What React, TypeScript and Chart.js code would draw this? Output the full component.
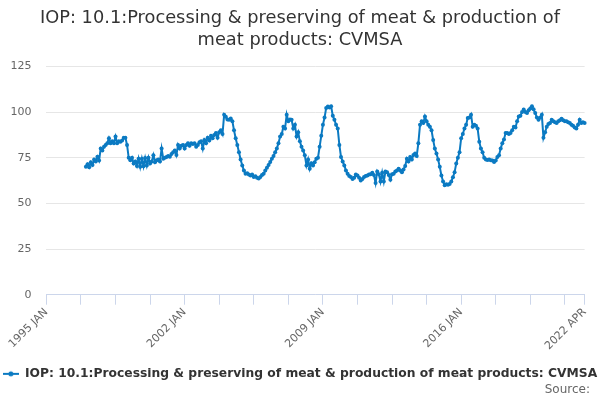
import React, { useEffect, useRef } from 'react';
import { Chart, registerables } from 'chart.js';

Chart.register(...registerables);

const TITLE_LINES = ['IOP: 10.1:Processing & preserving of meat & production of', 'meat products: CVMSA'];
const SERIES_NAME = 'IOP: 10.1:Processing & preserving of meat & production of meat products: CVMSA';
const SOURCE_TEXT = 'Source:';

const MONTHS = ['JAN', 'FEB', 'MAR', 'APR', 'MAY', 'JUN', 'JUL', 'AUG', 'SEP', 'OCT', 'NOV', 'DEC'];
const FIRST_YEAR = 1995;
const LAST_YEAR = 2022;
const LAST_MONTH_INDEX = 3; // APR
const DATA_START_LABEL = '1997 JAN';

const Y_MIN = 0;
const Y_MAX = 125;
const Y_STEP = 25;

// Monthly index values (CVMSA)
const values1997to2002 = [
  70, 71.5, 69.8, 72.5, 71, 74, 73, 75.5, 73.5, 80, 79, 81,
  82, 83, 85.7, 83, 84, 83, 86.6, 83, 84, 83.8, 84.5, 86,
  86, 82, 75, 73.6, 75, 71.8, 73, 70.5, 74.5, 70, 74.5, 70.3,
  74.8, 70.8, 75, 71.8, 73, 76.4, 72.5, 73.6, 74, 73, 80, 74.5,
  75, 75.4, 76, 75.5, 77, 78, 79, 76.5, 82, 80, 81.5, 82,
  80, 82, 83, 81.5, 83, 82.5, 83, 81, 82, 83.5, 84, 80,
];
const values2003to2008 = [
  84.7, 83, 86, 84.5, 87, 85.7, 87.5, 88.5, 86, 89, 90, 88,
  98.6, 97.5, 96, 95.8, 96.5, 95, 90, 85.7, 82, 78, 74, 70.8,
  68, 66.2, 66.5, 65.8, 65.3, 65.8, 64.5, 64.8, 64, 63.6, 64.5, 65.5,
  66.2, 68, 69.5, 71, 72.7, 74.5, 76, 78, 80, 83, 86.6, 88,
  92, 91, 98.6, 95, 96, 95.8, 91, 93, 86.6, 89, 84, 81,
  79, 76.4, 70.8, 74, 69, 72, 70.8, 72.5, 74.5, 75, 81, 87,
];
const values2009to2015 = [
  93, 97, 102.3, 103, 102.5, 103.2, 98, 95.8, 93, 91, 82, 75.4,
  73, 70.8, 68, 66.2, 65, 64.5, 63.4, 64, 65.8, 65.3, 64, 62.5,
  63.4, 64.5, 65, 65.3, 65.8, 66, 66.8, 65.5, 61.2, 67.5, 66, 62,
  66.8, 62, 67.5, 67, 65.5, 63, 66, 66.2, 67.5, 68, 69, 68,
  67, 68.5, 70.5, 74.5, 73, 75.4, 74, 76.5, 77.3, 76, 83, 93,
  95, 94, 97.6, 95, 93, 92, 90, 84.7, 80, 77.3, 74, 70,
  65.3, 62, 60, 60.5, 60.2, 60.6, 62, 64.3, 67, 71.8, 75, 78,
];
const values2016to2022 = [
  85.7, 88, 91, 93, 96.8, 97, 98.6, 92, 93, 92.5, 91, 83.8,
  80, 78, 75, 74, 73.8, 74, 73.6, 73.5, 72.7, 73.5, 75.4, 76.4,
  80, 83, 85, 88.5, 88.5, 88, 88.5, 90, 92, 91.5, 95, 97.6,
  98, 100, 101.4, 100, 99.5, 101, 102, 103.2, 101.5, 99.5, 97, 95.8,
  97, 98.6, 86, 89, 92, 93.5, 94, 95.8, 95, 94.5, 94, 95,
  95.5, 96.4, 95.5, 95, 95, 94.5, 94, 93, 92.5, 91.5, 91, 93,
  95.8, 94, 94.5, 94,
];

const LINE_COLOR = '#0b7ac2';

export default function App() {
  const canvasRef = useRef<HTMLCanvasElement | null>(null);

  useEffect(() => {
    const canvas = canvasRef.current;
    if (!canvas) return;

    const labels: string[] = [];
    for (let y = FIRST_YEAR; y <= LAST_YEAR; y++) {
      for (let m = 0; m < 12; m++) {
        if (y === LAST_YEAR && m > LAST_MONTH_INDEX) break;
        labels.push(`${y} ${MONTHS[m]}`);
      }
    }
    const allValues = [...values1997to2002, ...values2003to2008, ...values2009to2015, ...values2016to2022];
    const startIdx = labels.indexOf(DATA_START_LABEL);
    const data: (number | null)[] = labels.map((_, i) =>
      i >= startIdx && i - startIdx < allValues.length ? allValues[i - startIdx] : null
    );
    const lastIdx = labels.length - 1;
    const isTick = (i: number) => i % 21 === 0 || i === lastIdx;
    const isLabel = (i: number) => i % 84 === 0 || i === lastIdx;

    const icon = document.createElement('canvas');
    icon.width = 16;
    icon.height = 8;
    const ictx = icon.getContext('2d');
    if (ictx) {
      ictx.strokeStyle = LINE_COLOR;
      ictx.lineWidth = 2;
      ictx.beginPath();
      ictx.moveTo(0, 4);
      ictx.lineTo(16, 4);
      ictx.stroke();
      ictx.fillStyle = LINE_COLOR;
      ictx.beginPath();
      ictx.arc(8, 4, 2.5, 0, Math.PI * 2);
      ictx.fill();
    }

    const sourcePlugin = {
      id: 'sourceText',
      afterDraw(chart: any) {
        const ctx = chart.ctx;
        ctx.save();
        ctx.font = '12px "DejaVu Sans"';
        ctx.fillStyle = '#666666';
        ctx.textAlign = 'right';
        ctx.textBaseline = 'middle';
        ctx.fillText(SOURCE_TEXT, 590, 390);
        ctx.restore();
      },
    };

    Chart.defaults.font.family = '"DejaVu Sans", sans-serif';

    const chart = new Chart(canvas, {
      type: 'line',
      data: {
        labels,
        datasets: [
          {
            label: SERIES_NAME,
            data,
            borderColor: LINE_COLOR,
            backgroundColor: LINE_COLOR,
            borderWidth: 2,
            pointRadius: 2,
            pointBorderWidth: 0,
            pointBackgroundColor: LINE_COLOR,
            tension: 0,
            spanGaps: false,
          },
        ],
      },
      options: {
        responsive: false,
        animation: false,
        events: [],
        layout: { padding: { left: 0, right: 0, top: 0, bottom: 10 } },
        plugins: {
          tooltip: { enabled: false },
          title: {
            display: true,
            text: TITLE_LINES,
            color: '#333333',
            font: { size: 17.8, weight: 'normal', lineHeight: 1.22 },
            padding: { top: 8, bottom: 15 },
          },
          legend: {
            display: true,
            position: 'bottom',
            labels: {
              usePointStyle: true,
              pointStyleWidth: 16,
              color: '#333333',
              font: { size: 12.3, weight: 'bold' },
              padding: 10,
              generateLabels: () => [
                {
                  text: SERIES_NAME,
                  pointStyle: icon as any,
                  fillStyle: LINE_COLOR,
                  strokeStyle: LINE_COLOR,
                  lineWidth: 0,
                  hidden: false,
                  datasetIndex: 0,
                  fontColor: '#333333',
                },
              ],
            },
          },
        },
        scales: {
          x: {
            type: 'category',
            offset: false,
            border: { display: true, color: '#ccd6eb', width: 1 },
            grid: {
              drawOnChartArea: false,
              drawTicks: true,
              tickLength: 10,
              tickColor: (ctx: any) => (isTick(ctx.index) ? '#ccd6eb' : 'rgba(0,0,0,0)'),
            },
            ticks: {
              autoSkip: false,
              maxRotation: 45,
              minRotation: 45,
              color: '#666666',
              font: { size: 11 },
              padding: 1,
              callback: (_v: any, i: number) => (isLabel(i) ? labels[i] : ''),
            },
            afterFit: (scale: any) => {
              scale.height = 63;
              scale.paddingRight = 15.4;
            },
          },
          y: {
            min: Y_MIN,
            max: Y_MAX,
            border: { display: false },
            grid: { color: '#e6e6e6', drawTicks: false },
            ticks: {
              stepSize: Y_STEP,
              color: '#666666',
              font: { size: 11 },
              padding: 15,
            },
            afterFit: (scale: any) => {
              scale.width = 46.4;
            },
          },
        },
      },
      plugins: [sourcePlugin],
    });

    return () => {
      chart.destroy();
    };
  }, []);

  return (
    <div style={{ position: 'absolute', left: 0, top: 0, width: 600, height: 400, background: '#ffffff' }}>
      <canvas ref={canvasRef} width={600} height={400} style={{ width: 600, height: 400 }} />
    </div>
  );
}
